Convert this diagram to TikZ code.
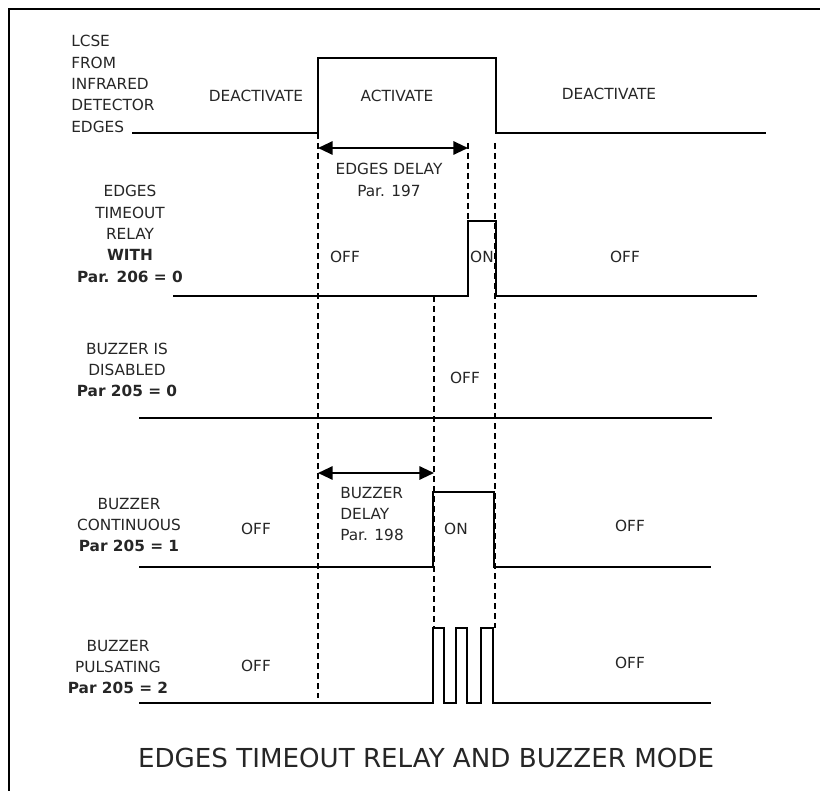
\documentclass[tikz,border=0pt]{standalone}
\usepackage{fontspec}
\setmainfont{DejaVu Sans}
\usetikzlibrary{arrows.meta}

\begin{document}
\begin{tikzpicture}[x=.75pt,y=-.75pt,
  sig/.style={line width=1.5pt},
  dsh/.style={line width=1.2pt,dash pattern=on 4.5pt off 3pt},
  lbl/.style={font=\fontsize{11.5}{16}\selectfont,text=black!85,inner sep=0pt,align=center},
  dly/.style={line width=1.5pt,{Triangle[length=11pt,width=10pt]}-{Triangle[length=11pt,width=10pt]}}]
\useasboundingbox(0,0)rectangle(820,791);
\draw[line width=2pt](9,791)|-(820,9);
\draw[sig](132,133)-|(318,58)-|(496,133)--(766,133);
\draw[sig](173,296)-|(468,221)-|(496,296)--(757,296);
\draw[sig](139,418)--(712,418);
\draw[sig](139,567)-|(433,492)-|(494,567)--(711,567);
\draw[sig](139,703)-|(433,628)-|(444,703)-|(456,628)-|(467,703)-|(481,628)-|(493,703)--(711,703);
\coordinate(d1t)at(318,133);\coordinate(d1b)at(318,698);
\coordinate(d2t)at(468,143);\coordinate(d2b)at(468,221);
\coordinate(d3t)at(495,143);\coordinate(d3b)at(495,628);
\coordinate(d4t)at(434,296);\coordinate(d4b)at(434,628);
\foreach\d in{d1,d2,d3,d4}{\draw[dsh](\d t)--(\d b);}
\coordinate(ed1)at(318,148);\coordinate(ed2)at(468,148);
\coordinate(bd1)at(318,473);\coordinate(bd2)at(434,473);
\draw[dly](ed1)--(ed2);
\draw[dly](bd1)--(bd2);
\node[lbl,anchor=west,align=left](lcse)at(71,84){LCSE\\FROM\\INFRARED\\DETECTOR\\EDGES};
\node[lbl](deact1)at(256,96){DEACTIVATE};
\node[lbl](act)at(397,96){ACTIVATE};
\node[lbl](deact2)at(609,94){DEACTIVATE};
\node[lbl](edly)at(389,180){EDGES DELAY\\Par. 197};
\node[lbl](relay)at(130,234){EDGES\\TIMEOUT\\RELAY\\\textbf{WITH}\\\textbf{Par. 206 = 0}};
\node[lbl](roff1)at(345,257){OFF};
\node[lbl](ron)at(482,257){ON};
\node[lbl](roff2)at(625,257){OFF};
\node[lbl](dis)at(127,370){BUZZER IS\\DISABLED\\\textbf{Par 205 = 0}};
\node[lbl](doff)at(465,378){OFF};
\node[lbl,anchor=west,align=left](bdly)at(340,514){BUZZER\\DELAY\\Par. 198};
\node[lbl](cont)at(129,525){BUZZER\\CONTINUOUS\\\textbf{Par 205 = 1}};
\node[lbl](coff1)at(256,529){OFF};
\node[lbl](con)at(456,529){ON};
\node[lbl](coff2)at(630,526){OFF};
\node[lbl](puls)at(118,667){BUZZER\\PULSATING\\\textbf{Par 205 = 2}};
\node[lbl](poff1)at(256,666){OFF};
\node[lbl](poff2)at(630,663){OFF};
\node[lbl,font=\fontsize{19.6}{24}\selectfont](title)at(426,758){EDGES TIMEOUT RELAY AND BUZZER MODE};
\end{tikzpicture}
\end{document}
